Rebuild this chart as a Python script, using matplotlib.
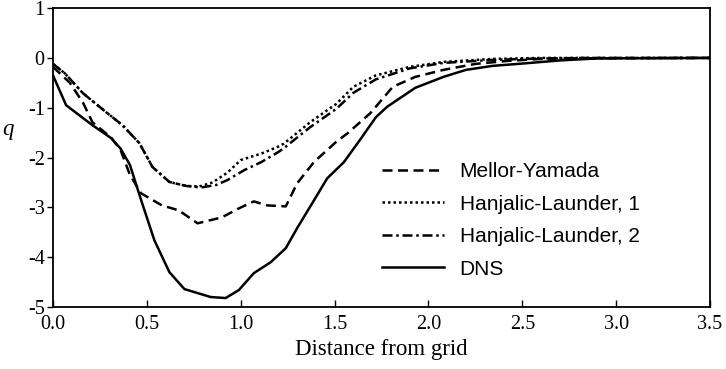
import matplotlib
matplotlib.use('Agg')
import matplotlib.pyplot as plt

# data
x_dns = [0, 0.07, 0.21, 0.31, 0.36, 0.41, 0.47, 0.54, 0.62, 0.70, 0.84, 0.92, 0.99,
         1.07, 1.16, 1.24, 1.30, 1.39, 1.46, 1.55, 1.64, 1.72, 1.78, 1.93, 2.08,
         2.20, 2.34, 2.51, 2.70, 2.90, 3.5]
y_dns = [-0.35, -0.95, -1.35, -1.61, -1.82, -2.15, -2.86, -3.66, -4.30, -4.64, -4.80,
         -4.82, -4.66, -4.32, -4.10, -3.82, -3.42, -2.86, -2.42, -2.09, -1.62, -1.19,
         -0.98, -0.60, -0.38, -0.24, -0.16, -0.11, -0.05, -0.01, 0]

x_my = [0, 0.09, 0.16, 0.21, 0.31, 0.36, 0.41, 0.47, 0.58, 0.67, 0.77, 0.90, 0.99,
        1.07, 1.14, 1.24, 1.30, 1.39, 1.51, 1.57, 1.69, 1.81, 1.93, 2.08, 2.25,
        2.42, 2.60, 2.80, 3.5]
y_my = [-0.18, -0.50, -0.90, -1.29, -1.60, -1.85, -2.35, -2.72, -2.96, -3.06, -3.32,
        -3.20, -3.02, -2.88, -2.96, -2.98, -2.52, -2.09, -1.68, -1.51, -1.11, -0.58,
        -0.38, -0.24, -0.12, -0.06, -0.02, 0, 0]

x_hl1 = [0, 0.063, 0.16, 0.28, 0.37, 0.46, 0.53, 0.62, 0.71, 0.78, 0.85, 0.93, 1.00,
         1.11, 1.20, 1.23, 1.37, 1.51, 1.60, 1.72, 1.90, 2.08, 2.34, 2.60, 3.5]
y_hl1 = [-0.12, -0.31, -0.71, -1.08, -1.35, -1.71, -2.19, -2.49, -2.57, -2.58, -2.50,
         -2.30, -2.05, -1.92, -1.78, -1.72, -1.29, -0.92, -0.58, -0.35, -0.18, -0.08,
         -0.02, 0, 0]

x_hl2 = [0, 0.063, 0.16, 0.28, 0.37, 0.46, 0.53, 0.62, 0.71, 0.79, 0.87, 0.93, 1.02,
         1.11, 1.20, 1.23, 1.37, 1.51, 1.60, 1.72, 1.90, 2.08, 2.34, 2.60, 3.5]
y_hl2 = [-0.12, -0.31, -0.71, -1.08, -1.35, -1.71, -2.19, -2.49, -2.57, -2.60, -2.55,
         -2.45, -2.25, -2.09, -1.89, -1.81, -1.39, -1.02, -0.70, -0.43, -0.21, -0.10,
         -0.04, -0.01, 0]

fig = plt.figure(figsize=(7.26, 3.69), dpi=100)
ax = fig.add_axes([0.073, 0.168, 0.905, 0.81])

lw = 1.8
ax.plot(x_my, y_my, color='black', lw=lw, dashes=(4, 2.2), label='Mellor-Yamada')
ax.plot(x_hl1, y_hl1, color='black', lw=lw, dashes=(1, 1.2), label='Hanjalic-Launder, 1')
ax.plot(x_hl2, y_hl2, color='black', lw=lw, dashes=(4, 1.5, 1, 1.5), label='Hanjalic-Launder, 2')
ax.plot(x_dns, y_dns, color='black', lw=lw, label='DNS')

ax.set_xlim(0, 3.5)
ax.set_ylim(-5, 1)
ax.set_xticks([0, 0.5, 1.0, 1.5, 2.0, 2.5, 3.0, 3.5])
ax.set_xticklabels(['0.0', '0.5', '1.0', '1.5', '2.0', '2.5', '3.0', '3.5'])
ax.set_yticks([-5, -4, -3, -2, -1, 0, 1])
ax.set_yticklabels(['-5', '-4', '-3', '-2', '-1', '0', '1'])

serif = 'Liberation Serif'
for lab in ax.get_xticklabels() + ax.get_yticklabels():
    lab.set_family(serif)
    lab.set_fontsize(14.5)
ax.tick_params(axis='x', direction='in', length=5, width=1, pad=6)
ax.tick_params(axis='y', direction='out', length=4, width=1, pad=2)
for s in ax.spines.values():
    s.set_linewidth(1.3)

ax.set_xlabel('Distance from grid', family=serif, fontsize=16.5, labelpad=3)
ax.set_ylabel('q', family=serif, style='italic', fontsize=16.5, rotation=0)
ax.yaxis.set_label_coords(-0.069, 0.56)

ax.legend(loc='center left', bbox_to_anchor=(0.5, 0.29), frameon=False,
          prop={'family': 'Liberation Sans', 'size': 15}, handlelength=3.0,
          handletextpad=0.75, labelspacing=0.65, borderpad=0, borderaxespad=0)

fig.savefig('out.png', dpi=100)
